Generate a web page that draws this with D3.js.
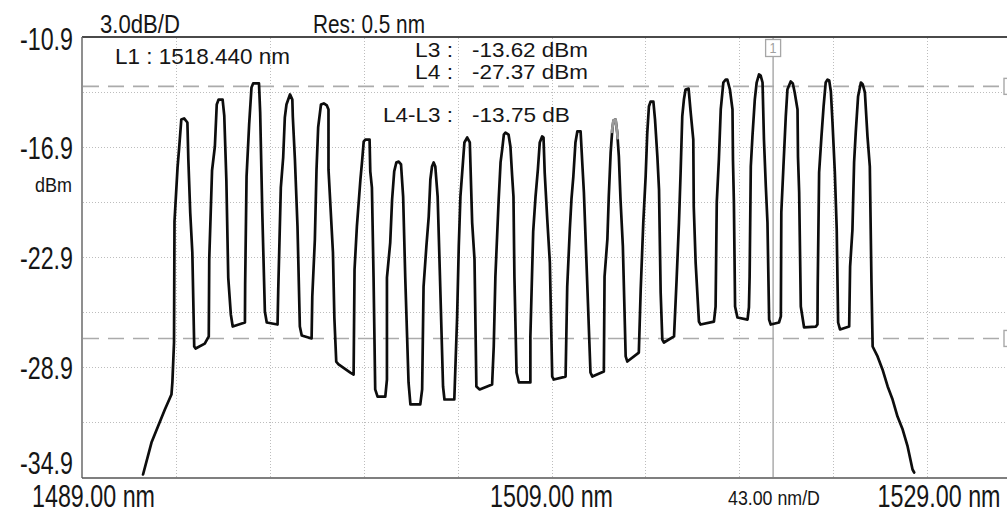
<!DOCTYPE html>
<html>
<head>
<meta charset="utf-8">
<script src="https://cdn.jsdelivr.net/npm/d3@7"></script>
<style>
  html, body { margin: 0; padding: 0; background: #fff; overflow: hidden; }
  svg { display: block; font-family: "Liberation Sans", Arial, sans-serif; }
</style>
</head>
<body>
<svg id="chart" width="1007" height="513"></svg>
<script>
// ---- Axis settings (OSA screen: 3.0 dB/div, 1489–1529 nm span) ----
const xDomain = [1489, 1529];
const yDomain = [-34.9, -10.9];
const yLabelValues = [-10.9, -16.9, -22.9, -28.9, -34.9];
const yGridValues = [-13.9, -16.9, -19.9, -22.9, -25.9, -28.9, -31.9];
const xGridValues = [1493, 1497, 1501, 1505, 1509, 1513, 1517, 1521, 1525];
const xLabelValues = [1489, 1509, 1529];

// ---- Markers ----
const markerL1 = 1518.440;   // nm
const markerL3 = -13.62;     // dBm
const markerL4 = -27.37;     // dBm
const markerDelta = -13.75;  // dB

// ---- Measured trace: [wavelength nm, power dBm] ----
const trace = [
  [1491.60,-34.79],[1491.96,-33.05],[1492.24,-32.16],[1492.53,-31.25],[1492.81,-30.43],[1492.85,-29.77],[1492.92,-27.59],
  [1492.94,-20.99],[1493.07,-18.05],[1493.14,-16.95],[1493.23,-15.43],[1493.35,-15.37],[1493.49,-15.59],[1493.53,-17.61],[1493.61,-20.50],[1493.70,-22.68],[1493.78,-27.81],[1493.84,-27.92],[1494.23,-27.65],[1494.37,-27.32],
  [1494.40,-27.26],[1494.42,-23.06],[1494.54,-18.21],[1494.66,-16.90],[1494.74,-14.61],[1494.82,-14.34],[1494.99,-14.34],[1495.06,-15.21],[1495.15,-18.75],[1495.23,-24.05],[1495.34,-26.06],[1495.42,-26.72],[1495.94,-26.50],
  [1495.95,-24.43],[1496.01,-18.54],[1496.12,-15.70],[1496.22,-13.68],[1496.29,-13.46],[1496.54,-13.46],[1496.59,-15.05],[1496.68,-20.50],[1496.79,-25.90],[1496.87,-26.50],[1497.33,-26.61],
  [1497.36,-24.70],[1497.47,-19.14],[1497.57,-17.50],[1497.64,-15.32],[1497.71,-14.61],[1497.86,-14.06],[1497.96,-14.34],[1497.98,-15.26],[1498.07,-17.61],[1498.18,-21.26],[1498.28,-26.72],[1498.36,-27.21],[1498.78,-27.37],
  [1498.81,-25.08],[1498.92,-21.97],[1498.99,-18.15],[1499.06,-15.86],[1499.18,-14.61],[1499.30,-14.55],[1499.43,-14.66],[1499.50,-14.88],[1499.50,-18.15],[1499.69,-22.68],[1499.75,-26.23],[1499.83,-28.63],[1499.93,-28.79],[1500.43,-29.23],[1500.57,-29.34],
  [1500.61,-23.61],[1500.71,-21.26],[1500.86,-18.70],[1500.93,-17.72],[1501.00,-16.63],[1501.07,-16.52],[1501.25,-16.52],[1501.28,-18.26],[1501.35,-19.14],[1501.42,-24.05],[1501.49,-30.15],[1501.59,-30.54],[1501.92,-30.54],
  [1501.99,-29.61],[1501.99,-24.05],[1502.13,-22.14],[1502.21,-19.79],[1502.30,-18.26],[1502.39,-17.77],[1502.49,-17.72],[1502.59,-17.88],[1502.68,-19.63],[1502.77,-24.05],[1502.91,-29.77],[1502.99,-30.97],[1503.41,-30.97],
  [1503.49,-30.15],[1503.55,-24.54],[1503.67,-22.35],[1503.77,-20.72],[1503.84,-18.70],[1503.91,-17.99],[1503.98,-17.77],[1504.05,-17.99],[1504.15,-19.63],[1504.24,-23.61],[1504.38,-29.99],[1504.44,-30.70],[1504.81,-30.70],
  [1504.86,-30.70],[1504.98,-26.17],[1505.05,-22.35],[1505.12,-19.63],[1505.23,-17.72],[1505.29,-16.68],[1505.41,-16.41],[1505.52,-16.68],[1505.62,-21.05],[1505.72,-23.06],[1505.80,-29.99],[1505.94,-30.15],[1506.47,-29.88],
  [1506.54,-27.81],[1506.61,-23.99],[1506.75,-19.79],[1506.83,-17.77],[1506.90,-17.06],[1506.97,-16.25],[1507.04,-16.14],[1507.17,-16.25],[1507.25,-16.90],[1507.32,-18.43],[1507.38,-19.63],[1507.42,-23.99],[1507.51,-29.23],[1507.61,-29.77],[1508.10,-29.77],
  [1508.10,-27.26],[1508.22,-21.54],[1508.32,-19.63],[1508.42,-18.15],[1508.50,-16.68],[1508.60,-16.35],[1508.66,-16.41],[1508.71,-18.32],[1508.82,-20.88],[1508.93,-23.23],[1509.03,-29.45],[1509.10,-29.61],[1509.60,-29.45],
  [1509.67,-24.54],[1509.78,-21.43],[1509.85,-19.79],[1509.93,-18.54],[1510.02,-16.68],[1510.10,-16.08],[1510.24,-16.08],[1510.31,-17.77],[1510.38,-19.41],[1510.49,-23.23],[1510.66,-29.23],[1510.74,-29.45],[1511.23,-29.17],
  [1511.26,-23.99],[1511.38,-21.97],[1511.44,-19.63],[1511.52,-17.23],[1511.59,-15.97],[1511.64,-15.48],[1511.73,-15.43],[1511.80,-16.14],[1511.87,-17.45],[1511.94,-19.79],[1512.04,-22.35],[1512.16,-28.35],[1512.23,-28.63],[1512.72,-28.14],
  [1512.80,-24.70],[1512.91,-21.05],[1513.01,-18.54],[1513.08,-16.14],[1513.15,-14.72],[1513.22,-14.45],[1513.34,-14.45],[1513.41,-15.43],[1513.51,-17.45],[1513.58,-19.25],[1513.65,-24.86],[1513.72,-27.43],[1513.79,-27.59],[1514.22,-27.26],
  [1514.33,-24.15],[1514.43,-21.05],[1514.50,-18.32],[1514.57,-15.26],[1514.64,-14.34],[1514.71,-13.79],[1514.84,-13.74],[1514.93,-15.05],[1515.04,-16.52],[1515.06,-20.17],[1515.14,-23.23],[1515.28,-26.45],[1515.35,-26.61],[1515.92,-26.45],
  [1515.99,-25.63],[1516.04,-19.95],[1516.13,-17.61],[1516.21,-14.88],[1516.32,-13.41],[1516.42,-13.25],[1516.49,-13.25],[1516.60,-13.79],[1516.71,-14.88],[1516.73,-17.61],[1516.77,-19.95],[1516.82,-25.63],[1516.92,-26.23],[1517.35,-26.34],[1517.41,-25.68],
  [1517.44,-23.99],[1517.49,-17.99],[1517.56,-16.35],[1517.66,-14.34],[1517.74,-13.41],[1517.84,-12.97],[1517.91,-13.03],[1517.99,-13.41],[1518.05,-16.52],[1518.13,-19.08],[1518.20,-21.05],[1518.27,-26.34],[1518.34,-26.61],[1518.69,-26.50],[1518.77,-26.17],
  [1518.79,-20.50],[1518.88,-17.99],[1518.98,-15.26],[1519.05,-13.79],[1519.19,-13.35],[1519.28,-13.46],[1519.36,-13.95],[1519.48,-14.88],[1519.50,-17.45],[1519.55,-19.41],[1519.62,-25.63],[1519.76,-26.77],[1520.26,-26.72],[1520.33,-26.61],
  [1520.34,-24.54],[1520.40,-18.32],[1520.50,-16.35],[1520.59,-14.72],[1520.68,-13.41],[1520.76,-13.25],[1520.83,-13.30],[1520.90,-13.90],[1520.97,-15.59],[1521.07,-18.32],[1521.15,-21.43],[1521.21,-26.50],[1521.29,-26.88],[1521.68,-26.72],
  [1521.72,-23.45],[1521.82,-21.43],[1521.89,-17.77],[1521.96,-16.14],[1522.06,-14.17],[1522.18,-13.41],[1522.26,-13.52],[1522.35,-13.95],[1522.46,-16.35],[1522.56,-17.99],[1522.63,-24.32],[1522.68,-27.81],
  [1522.89,-28.35],[1523.10,-29.06],[1523.32,-29.99],[1523.53,-30.70],[1523.74,-31.63],[1523.96,-32.34],[1524.17,-33.26],[1524.38,-34.52],[1524.45,-34.68]
];

// Peak drawn in the highlight colour (channel at ~1511.7 nm)
const highlightPeak = [[1511.57,-16.10],[1511.64,-15.48],[1511.73,-15.43],[1511.80,-16.14],[1511.82,-16.45]];

// ---- Scales ----
const svg = d3.select("#chart");
const x = d3.scaleLinear().domain(xDomain).range([82, 1021]);
const y = d3.scaleLinear().domain(yDomain).range([476.5, 36.5]);

const FONT = '"Liberation Sans", Arial, sans-serif';
// Text squeezed horizontally to a given width (condensed instrument font)
function label(g, str, px, py, size, width, anchor, fill) {
  const t = g.append("text")
    .attr("x", 0).attr("y", 0)
    .attr("font-size", size)
    .attr("font-family", FONT)
    .attr("text-anchor", anchor || "start")
    .attr("fill", fill || "#161616")
    .text(str);
  const natural = t.node().getComputedTextLength() || width;
  t.attr("transform", `translate(${px},${py}) scale(${width / natural},1)`);
  return t;
}

// ---- Grid (dotted) ----
const grid = svg.append("g").attr("stroke", "#bdbdbd").attr("stroke-width", 1)
  .attr("stroke-dasharray", "1,2");
grid.selectAll("line.v").data(xGridValues).join("line")
  .attr("x1", d => Math.round(x(d)) + 0.5).attr("x2", d => Math.round(x(d)) + 0.5)
  .attr("y1", 38).attr("y2", 477);
grid.selectAll("line.h").data(yGridValues).join("line")
  .attr("x1", 83).attr("x2", 1007)
  .attr("y1", d => Math.round(y(d)) + 0.5).attr("y2", d => Math.round(y(d)) + 0.5);

// ---- Level markers L3 / L4 (dashed) ----
const levels = svg.append("g");
levels.selectAll("line").data([markerL3, markerL4]).join("line")
  .attr("x1", 83).attr("x2", 1004)
  .attr("y1", d => y(d)).attr("y2", d => y(d))
  .attr("stroke", "#ababab").attr("stroke-width", 1.6)
  .attr("stroke-dasharray", "16,9");
levels.selectAll("rect").data([markerL3, markerL4]).join("rect")
  .attr("x", 1004).attr("y", d => y(d) - 8).attr("width", 16).attr("height", 16)
  .attr("fill", "#fff").attr("stroke", "#a8a8a8").attr("stroke-width", 1.4);

// ---- Wavelength marker L1 ----
svg.append("line")
  .attr("x1", x(markerL1)).attr("x2", x(markerL1))
  .attr("y1", 38).attr("y2", 477)
  .attr("stroke", "#a6a6a6").attr("stroke-width", 1.4);
svg.append("rect")
  .attr("x", x(markerL1) - 7.5).attr("y", 39.5).attr("width", 15).attr("height", 17)
  .attr("fill", "#fff").attr("stroke", "#a6a6a6").attr("stroke-width", 1.3);
label(svg, "1", x(markerL1), 53, 14, 7, "middle", "#a0a0a0");

// ---- Frame ----
const frame = svg.append("g").attr("fill", "none");
frame.append("line").attr("x1", 82).attr("x2", 1007).attr("y1", 37).attr("y2", 37)
  .attr("stroke", "#4a4a4a").attr("stroke-width", 1.8);
frame.append("line").attr("x1", 82).attr("x2", 82).attr("y1", 37).attr("y2", 478)
  .attr("stroke", "#6a6a6a").attr("stroke-width", 1.5);
frame.append("line").attr("x1", 82).attr("x2", 1007).attr("y1", 478).attr("y2", 478)
  .attr("stroke", "#555").attr("stroke-width", 1.6);

// ---- Spectrum trace ----
const line = d3.line().x(d => x(d[0])).y(d => y(d[1]));
svg.append("path").datum(trace)
  .attr("d", line)
  .attr("fill", "none").attr("stroke", "#0d0d0d")
  .attr("stroke-width", 2.7).attr("stroke-linejoin", "round").attr("stroke-linecap", "round");
svg.append("path").datum(highlightPeak)
  .attr("d", line)
  .attr("fill", "none").attr("stroke", "#9a9a9a")
  .attr("stroke-width", 2.7).attr("stroke-linejoin", "round").attr("stroke-linecap", "round");

// ---- Y labels ----
const yl = svg.append("g");
yLabelValues.forEach((v, i) => {
  let base = y(v) + 12;
  if (i === 0) base = 50;
  if (i === yLabelValues.length - 1) base = 474;
  label(yl, v.toFixed(1), 73, base, 31, 53, "end");
});
label(yl, "dBm", 72, 192, 21, 37, "end");

// ---- X labels ----
const xl = svg.append("g");
xLabelValues.forEach(v => {
  const cx = Math.max(93.5, Math.min(939, x(v)));
  label(xl, v.toFixed(2) + " nm", cx, 507, 31, 123, "middle");
});
label(xl, "43.00 nm/D", 728, 505, 21, 92, "start");

// ---- Header / marker readouts ----
const hd = svg.append("g");
label(hd, "3.0dB/D", 100, 33, 25, 80, "start");
label(hd, "Res: 0.5 nm", 313, 33, 25, 112, "start");
label(hd, "L1 : " + markerL1.toFixed(3) + " nm", 115, 64, 22, 175, "start");
label(hd, "L3 :", 453, 57, 21, 38, "end");
label(hd, markerL3.toFixed(2) + " dBm", 472, 57, 21, 116, "start");
label(hd, "L4 :", 453, 79, 21, 38, "end");
label(hd, markerL4.toFixed(2) + " dBm", 472, 79, 21, 116, "start");
label(hd, "L4-L3 :", 453, 122, 21, 70, "end");
label(hd, markerDelta.toFixed(2) + " dB", 472, 122, 21, 98, "start");
</script>
</body>
</html>
